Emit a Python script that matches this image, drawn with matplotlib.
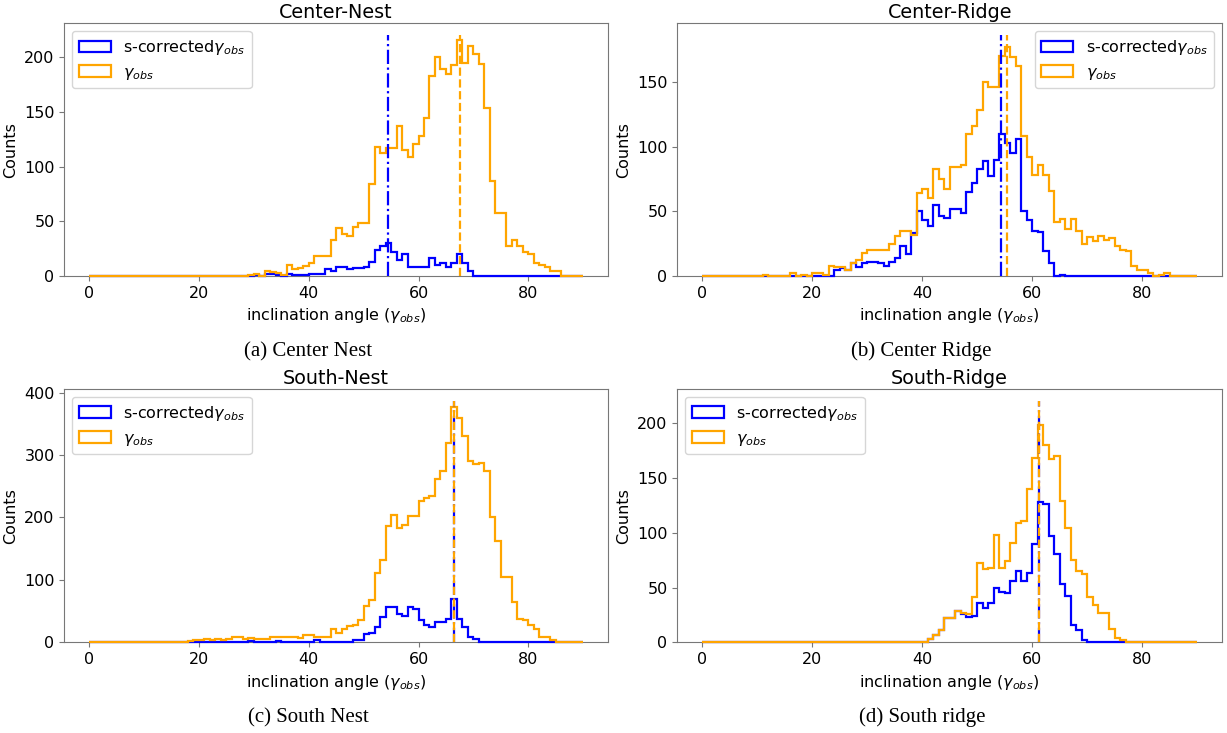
import numpy as np
import matplotlib
matplotlib.use("agg")
import matplotlib.pyplot as plt

# 1-degree bins from 0 to 90, list index = lower edge of the bin
edges = np.arange(0, 91)

center_nest_obs = [
    0, 0, 0, 0, 0, 0, 0, 0, 0, 0,
    0, 0, 0, 0, 0, 0, 0, 0, 0, 0,
    0, 0, 0, 0, 0, 0, 0, 0, 0, 1,
    2, 0, 5, 4, 3, 1, 10, 6, 7, 9,
    12, 18, 18, 18, 33, 44, 38, 37, 45, 48,
    48, 84, 118, 112, 117, 117, 137, 115, 109, 121,
    128, 144, 183, 200, 189, 185, 193, 216, 195, 210,
    203, 194, 154, 87, 58, 58, 27, 33, 27, 22,
    20, 12, 10, 8, 5, 5, 0, 0, 0, 0,
]
center_nest_cor = [
    0, 0, 0, 0, 0, 0, 0, 0, 0, 0,
    0, 0, 0, 0, 0, 0, 0, 0, 0, 0,
    0, 0, 0, 0, 0, 0, 0, 0, 0, 0,
    1, 0, 2, 2, 1, 0, 2, 1, 1, 1,
    2, 2, 2, 6, 5, 8, 8, 6, 7, 7,
    8, 13, 24, 27, 30, 22, 15, 20, 8, 8,
    8, 8, 16, 10, 12, 8, 12, 20, 12, 5,
    0, 0, 0, 0, 0, 0, 0, 0, 0, 0,
    0, 0, 0, 0, 0, 0, 0, 0, 0, 0,
]
center_ridge_obs = [
    0, 0, 0, 0, 0, 0, 0, 0, 0, 0,
    0, 1, 0, 0, 0, 0, 2, 0, 1, 0,
    2, 2, 1, 8, 7, 7, 5, 10, 12, 18,
    20, 20, 20, 20, 25, 31, 35, 35, 32, 64,
    67, 60, 83, 75, 67, 84, 84, 86, 110, 116,
    128, 150, 146, 146, 170, 177, 169, 162, 108, 92,
    78, 86, 78, 66, 42, 44, 36, 44, 35, 25,
    30, 27, 31, 28, 29, 23, 20, 19, 8, 5,
    5, 2, 0, 1, 2, 0, 0, 0, 0, 0,
]
center_ridge_cor = [
    0, 0, 0, 0, 0, 0, 0, 0, 0, 0,
    0, 0, 0, 0, 0, 0, 0, 0, 0, 0,
    0, 0, 0, 0, 5, 6, 5, 10, 7, 10,
    11, 11, 10, 8, 11, 14, 23, 17, 33, 50,
    43, 39, 55, 46, 45, 52, 52, 49, 65, 72,
    83, 89, 77, 90, 110, 103, 95, 106, 50, 43,
    35, 34, 19, 10, 0, 1, 0, 0, 0, 0,
    0, 0, 0, 0, 0, 0, 0, 0, 0, 0,
    0, 0, 0, 0, 0, 0, 0, 0, 0, 0,
]
south_nest_obs = [
    0, 1, 0, 1, 1, 0, 1, 0, 0, 1,
    1, 0, 1, 0, 0, 1, 1, 0, 2, 3,
    3, 6, 3, 5, 4, 5, 8, 9, 5, 7,
    5, 5, 6, 8, 9, 8, 9, 8, 7, 12,
    11, 9, 8, 8, 21, 15, 21, 26, 28, 36,
    58, 67, 111, 132, 186, 204, 183, 188, 202, 202,
    227, 231, 234, 261, 275, 320, 377, 359, 331, 291,
    286, 287, 275, 201, 163, 105, 105, 65, 37, 35,
    28, 22, 8, 8, 4, 0, 0, 1, 0, 0,
]
south_nest_cor = [
    0, 0, 0, 0, 0, 0, 0, 0, 0, 0,
    0, 0, 0, 0, 0, 0, 0, 0, 0, 0,
    0, 0, 1, 0, 0, 1, 0, 1, 0, 2,
    1, 0, 1, 0, 2, 1, 1, 0, 1, 1,
    1, 3, 1, 1, 1, 1, 1, 1, 4, 3,
    14, 15, 24, 40, 56, 57, 45, 42, 56, 54,
    36, 28, 24, 33, 33, 38, 69, 37, 24, 9,
    6, 0, 0, 0, 0, 0, 0, 0, 0, 0,
    0, 0, 0, 0, 0, 0, 0, 0, 0, 0,
]
south_ridge_obs = [
    0, 0, 0, 0, 0, 0, 0, 0, 0, 0,
    0, 0, 0, 0, 0, 0, 0, 0, 0, 0,
    0, 0, 0, 0, 0, 0, 0, 0, 0, 0,
    0, 0, 0, 0, 0, 0, 0, 0, 0, 0,
    0, 3, 7, 11, 22, 22, 29, 27, 26, 41,
    72, 67, 68, 98, 68, 74, 91, 109, 111, 140,
    168, 198, 180, 167, 170, 129, 104, 75, 65, 62,
    41, 34, 27, 27, 12, 4, 2, 0, 0, 0,
    0, 0, 0, 0, 0, 0, 0, 0, 0, 0,
]
south_ridge_cor = [
    0, 0, 0, 0, 0, 0, 0, 0, 0, 0,
    0, 0, 0, 0, 0, 0, 0, 0, 0, 0,
    0, 0, 0, 0, 0, 0, 0, 0, 0, 0,
    0, 0, 0, 0, 0, 0, 0, 0, 0, 0,
    0, 3, 7, 11, 22, 22, 29, 26, 23, 24,
    36, 31, 36, 50, 46, 45, 56, 65, 56, 63,
    90, 128, 126, 97, 81, 53, 42, 16, 11, 2,
    0, 0, 0, 0, 0, 0, 0, 0, 0, 0,
    0, 0, 0, 0, 0, 0, 0, 0, 0, 0,
]

titles = ["Center-Nest", "Center-Ridge", "South-Nest", "South-Ridge"]
captions = ["(a) Center Nest", "(b) Center Ridge", "(c) South Nest", "(d) South ridge"]
obs_sets = [center_nest_obs, center_ridge_obs, south_nest_obs, south_ridge_obs]
cor_sets = [center_nest_cor, center_ridge_cor, south_nest_cor, south_ridge_cor]
# median angles and the height of the marker lines
cor_median = [54.5, 54.3, 66.5, 61.3]
obs_median = [67.6, 55.4, 66.5, 61.3]
line_top = [220, 186, 386, 220]
legend_loc = ["upper left", "upper right", "upper left", "upper left"]

plt.rcParams["font.size"] = 11.5
plt.rcParams["axes.titlesize"] = 13.8
plt.rcParams["axes.edgecolor"] = "#777777"
plt.rcParams["xtick.color"] = "#777777"
plt.rcParams["ytick.color"] = "#777777"
plt.rcParams["xtick.labelcolor"] = "black"
plt.rcParams["ytick.labelcolor"] = "black"

fig = plt.figure(figsize=(12.27, 7.33), dpi=100)
boxes = [
    [0.0524, 0.6235, 0.4431, 0.3447],
    [0.5520, 0.6235, 0.4439, 0.3447],
    [0.0524, 0.1237, 0.4431, 0.3452],
    [0.5520, 0.1237, 0.4439, 0.3452],
]
cap_pos = [(0.2514, 0.5143), (0.7506, 0.5143), (0.2514, 0.0150), (0.7520, 0.0150)]

centers = edges[:-1] + 0.5
for i in range(4):
    ax = fig.add_axes(boxes[i])
    # drawn above the spines and unclipped so empty bins show along the baseline
    _, _, cor_patch = ax.hist(centers, bins=edges, weights=cor_sets[i], histtype="step",
                              zorder=3, color="blue", linewidth=1.6,
                              label=r"s-corrected$\gamma_{obs}$")
    _, _, obs_patch = ax.hist(centers, bins=edges, weights=obs_sets[i], histtype="step",
                              zorder=3, color="orange", linewidth=1.6,
                              label=r"$\gamma_{obs}$")
    for p in list(cor_patch) + list(obs_patch):
        p.set_clip_on(False)
    ax.vlines(cor_median[i], 0, line_top[i], colors="blue", linestyles="-.",
              linewidth=1.6, zorder=3)
    ax.vlines(obs_median[i], 0, line_top[i], colors="orange", linestyles="--",
              linewidth=1.6, zorder=3)
    ax.set_title(titles[i], pad=3.5)
    ax.set_xlabel(r"inclination angle ($\gamma_{obs}$)")
    ax.set_ylabel("Counts")
    ax.legend(loc=legend_loc[i])
    fig.text(cap_pos[i][0], cap_pos[i][1], captions[i], ha="center", va="baseline",
             fontfamily="Liberation Serif", fontsize=15)

fig.savefig("out.png", dpi=100)
